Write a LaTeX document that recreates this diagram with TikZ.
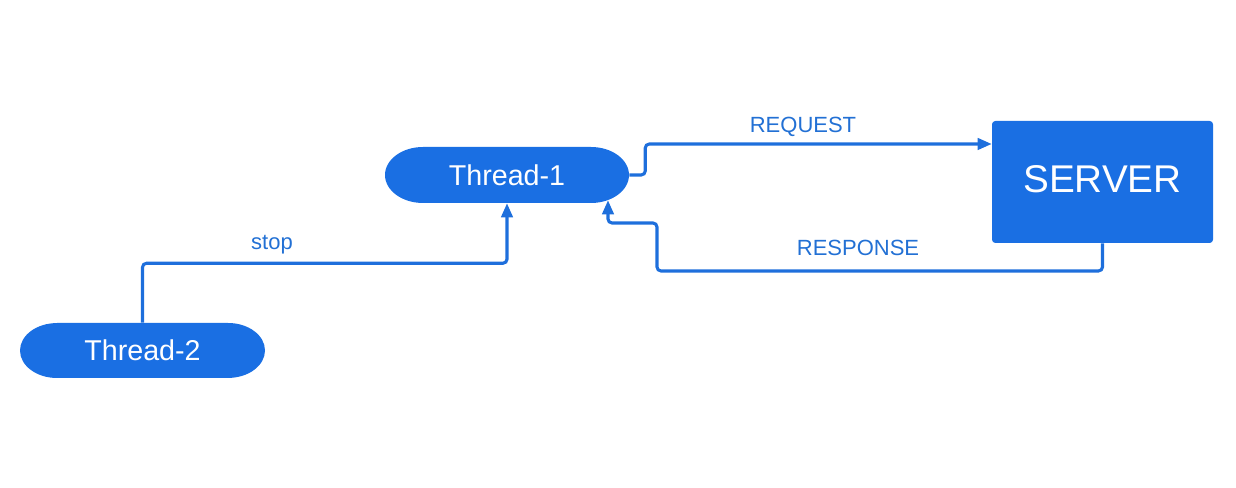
\documentclass[tikz,border=0pt]{standalone}
\usepackage{fontspec}
\setmainfont{Liberation Sans}
\usetikzlibrary{arrows.meta,calc}
\definecolor{boxblue}{HTML}{1A6FE3}
\definecolor{lineblue}{HTML}{1E6FDC}
\definecolor{labelblue}{HTML}{2270D4}
\tikzset{
  pillnode/.style={minimum width=#1*0.75pt, inner sep=0pt, text=white, font=\fontsize{21.5}{24}\selectfont},
  server/.style={fill=boxblue, rounded corners=2.5pt, minimum width=221*0.75pt, minimum height=122*0.75pt, inner sep=0pt, text depth=5pt, text=white, font=\fontsize{29}{32}\selectfont},
  conn/.style={draw=lineblue, line width=2.3pt, rounded corners=3pt},
  tip/.style={-{Triangle[length=10.5pt,width=8.5pt]}},
  lbl/.style={text=labelblue, font=\fontsize{16.5}{19}\selectfont, inner sep=0pt}
}
\begin{document}
\begin{tikzpicture}[x=0.75pt,y=0.75pt]
\useasboundingbox (0,0) rectangle (1236,488);
% pill backgrounds
\fill[boxblue] (423,341) -- (591,341) arc[start angle=90,end angle=-90,x radius=28.5pt,y radius=21pt] -- (423,285) arc[start angle=270,end angle=90,x radius=28.5pt,y radius=21pt] -- cycle;
\fill[boxblue] (57,165) -- (228,165) arc[start angle=90,end angle=-90,x radius=27.75pt,y radius=20.6pt] -- (57,110) arc[start angle=270,end angle=90,x radius=27.75pt,y radius=20.6pt] -- cycle;
% nodes
\node[pillnode=244, minimum height=56*0.75pt] (t1) at (507,313) {Thread-1};
\node[pillnode=245, minimum height=55*0.75pt] (t2) at (142.5,137.5) {Thread-2};
\node[server] (srv) at (1102.5,306) {SERVER};
% connectors
\draw[conn,tip] (t1.east) -- ++(16,0) |- ($(srv.west)+(0,38)$);
\draw[conn,tip] (srv.south) |- (657,217) -- (657,265) -- (608,265) -- ($(t1.south)+(101,3)$);
\draw[conn,tip] (t2.north) |- ($(t1.south)+(0,-60)$) -- (t1.south);
% labels
\node[lbl] (lreq) at (803,361) {REQUEST};
\node[lbl] (lres) at (858,240) {RESPONSE};
\node[lbl] (lstop) at (272,243) {stop};
\end{tikzpicture}
\end{document}
